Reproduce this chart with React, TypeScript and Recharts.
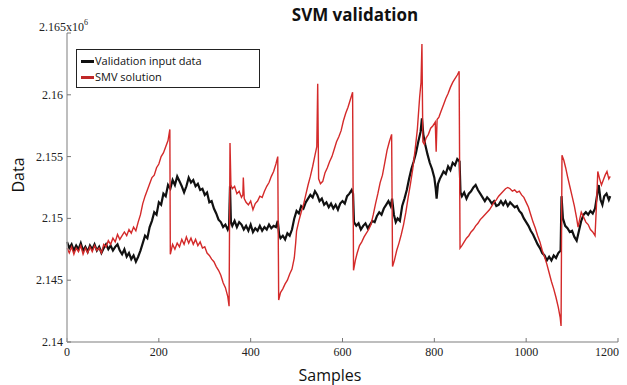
import React from 'react';
import { LineChart, Line, XAxis, YAxis, Legend, Customized } from 'recharts';

const xTicks = [0, 200, 400, 600, 800, 1000, 1200];
const yTicks = [2.14, 2.145, 2.15, 2.155, 2.16, 2.165];
const yTickLabels = ['2.14', '2.145', '2.15', '2.155', '2.16', '2.165x10'];
const seriesNames = ['Validation input data', 'SMV solution'];

const blackSamples = [0,5,10,15,20,25,30,35,40,45,50,55,60,65,70,75,80,85,90,95,100,105,110,115,120,125,130,135,140,145,150,155,160,165,170,175,180,185,190,195,200,205,210,215,220,225,230,235,240,245,250,255,260,265,270,275,280,285,290,295,300,305,310,315,320,325,330,335,340,345,350,353,355,357,360,365,370,375,380,385,390,395,400,405,410,415,420,425,430,435,440,445,450,455,459,462,465,470,475,480,485,490,495,500,505,510,515,520,525,530,535,540,545,550,555,560,565,570,575,580,585,590,595,600,605,610,615,620,623,625,630,635,640,645,650,655,660,665,670,675,680,685,690,695,700,705,708,712,716,720,725,730,735,740,745,750,755,760,765,770,773,776,780,785,790,795,800,803,805,808,812,816,820,825,830,835,840,845,850,855,857,860,865,870,875,880,885,890,895,900,905,910,915,920,925,930,935,940,945,950,955,960,965,970,975,980,985,990,995,1000,1005,1010,1015,1020,1025,1030,1035,1040,1045,1050,1055,1060,1065,1070,1075,1077,1080,1085,1090,1095,1100,1105,1110,1115,1120,1125,1130,1135,1140,1145,1150,1155,1158,1162,1166,1170,1175,1180,1183];
const blackValues = [2.1481,2.1476,2.1479,2.1474,2.1478,2.1475,2.1480,2.1474,2.1477,2.1473,2.1478,2.1475,2.1479,2.1474,2.1477,2.1472,2.1476,2.1479,2.1475,2.1478,2.1474,2.1477,2.1479,2.1474,2.1471,2.1475,2.1469,2.1472,2.1467,2.1470,2.1465,2.1469,2.1474,2.1480,2.1486,2.1484,2.1493,2.1498,2.1505,2.1503,2.1513,2.1511,2.1520,2.1518,2.1527,2.1524,2.1531,2.1527,2.1534,2.1530,2.1526,2.1521,2.1526,2.1533,2.1529,2.1531,2.1526,2.1528,2.1523,2.1524,2.1519,2.1521,2.1513,2.1514,2.1508,2.1504,2.1499,2.1497,2.1493,2.1495,2.1491,2.1494,2.1526,2.1497,2.1494,2.1498,2.1493,2.1497,2.1495,2.1491,2.1494,2.1490,2.1495,2.1489,2.1492,2.1490,2.1494,2.1490,2.1493,2.1491,2.1495,2.1492,2.1494,2.1493,2.1498,2.1487,2.1484,2.1486,2.1483,2.1488,2.1486,2.1491,2.1500,2.1506,2.1504,2.1510,2.1508,2.1513,2.1516,2.1519,2.1517,2.1522,2.1519,2.1514,2.1516,2.1511,2.1513,2.1509,2.1512,2.1508,2.1511,2.1507,2.1512,2.1514,2.1512,2.1518,2.1520,2.1523,2.1520,2.1497,2.1494,2.1496,2.1491,2.1494,2.1496,2.1492,2.1495,2.1498,2.1497,2.1502,2.1505,2.1503,2.1508,2.1511,2.1514,2.1510,2.1516,2.1503,2.1497,2.1500,2.1498,2.1510,2.1516,2.1523,2.1532,2.1540,2.1546,2.1553,2.1562,2.1570,2.1581,2.1568,2.1560,2.1552,2.1545,2.1540,2.1533,2.1524,2.1516,2.1528,2.1532,2.1535,2.1538,2.1536,2.1542,2.1539,2.1545,2.1543,2.1548,2.1546,2.1521,2.1518,2.1521,2.1516,2.1520,2.1522,2.1525,2.1527,2.1523,2.1520,2.1517,2.1514,2.1517,2.1515,2.1512,2.1514,2.1510,2.1511,2.1514,2.1511,2.1514,2.1510,2.1513,2.1511,2.1509,2.1510,2.1506,2.1504,2.1500,2.1497,2.1494,2.1490,2.1487,2.1483,2.1479,2.1476,2.1472,2.1470,2.1466,2.1469,2.1466,2.1470,2.1468,2.1472,2.1474,2.1518,2.1500,2.1494,2.1492,2.1489,2.1490,2.1485,2.1482,2.1490,2.1498,2.1503,2.1505,2.1503,2.1506,2.1504,2.1508,2.1520,2.1527,2.1515,2.1511,2.1518,2.1520,2.1515,2.1518];

const redSamples = [0,5,10,15,20,25,30,35,40,45,50,55,60,65,70,75,80,85,90,95,100,105,110,115,120,125,130,135,140,145,150,155,160,165,170,175,180,185,190,195,200,205,210,215,220,224,225,230,235,240,245,250,255,260,265,270,275,280,285,290,295,300,305,310,315,320,325,330,335,340,345,350,353,355,357,360,365,370,375,380,383,384,386,390,395,400,405,410,415,420,425,430,435,440,445,450,455,459,461,465,470,475,480,485,490,495,498,500,505,510,515,520,525,530,535,540,544,546,548,552,557,562,567,572,577,582,587,592,597,602,607,612,617,622,624,628,632,637,642,647,652,657,662,667,672,677,682,687,692,697,702,707,709,713,718,723,728,733,738,743,748,753,758,763,768,771,773,775,778,782,787,792,797,802,804,806,810,815,820,825,830,835,840,845,850,854,856,860,865,870,875,880,885,890,895,900,905,910,915,920,925,930,935,940,945,950,955,960,965,970,975,980,985,990,995,1000,1005,1010,1015,1020,1025,1030,1035,1040,1045,1050,1055,1060,1065,1070,1074,1076,1078,1082,1086,1090,1095,1100,1105,1110,1113,1117,1120,1125,1130,1135,1140,1145,1150,1153,1156,1160,1164,1168,1172,1176,1180,1183];
const redValues = [2.1476,2.1472,2.1477,2.1471,2.1476,2.1473,2.1478,2.1471,2.1476,2.1472,2.1477,2.1473,2.1478,2.1474,2.1476,2.1472,2.1479,2.1477,2.1482,2.1479,2.1484,2.1481,2.1487,2.1483,2.1486,2.1489,2.1486,2.1491,2.1488,2.1493,2.1490,2.1497,2.1503,2.1512,2.1518,2.1523,2.1528,2.1533,2.1535,2.1541,2.1544,2.1550,2.1553,2.1558,2.1563,2.1572,2.1471,2.1479,2.1475,2.1480,2.1477,2.1483,2.1479,2.1485,2.1480,2.1484,2.1479,2.1483,2.1478,2.1481,2.1476,2.1477,2.1472,2.1470,2.1467,2.1465,2.1461,2.1458,2.1454,2.1448,2.1444,2.1437,2.1429,2.1561,2.1527,2.1524,2.1526,2.1520,2.1522,2.1517,2.1519,2.1533,2.1516,2.1513,2.1511,2.1514,2.1507,2.1512,2.1514,2.1518,2.1517,2.1522,2.1526,2.1529,2.1534,2.1538,2.1544,2.1550,2.1434,2.1440,2.1443,2.1447,2.1450,2.1455,2.1459,2.1468,2.1480,2.1490,2.1498,2.1505,2.1511,2.1519,2.1527,2.1534,2.1542,2.1551,2.1558,2.1609,2.1532,2.1528,2.1530,2.1537,2.1541,2.1546,2.1550,2.1556,2.1562,2.1566,2.1571,2.1579,2.1585,2.1590,2.1596,2.1602,2.1458,2.1466,2.1472,2.1478,2.1481,2.1485,2.1488,2.1491,2.1495,2.1503,2.1512,2.1520,2.1529,2.1535,2.1545,2.1555,2.1562,2.1568,2.1461,2.1466,2.1474,2.1480,2.1487,2.1495,2.1505,2.1517,2.1528,2.1540,2.1555,2.1572,2.1598,2.1610,2.1641,2.1562,2.1560,2.1565,2.1568,2.1573,2.1575,2.1578,2.1554,2.1580,2.1582,2.1587,2.1592,2.1597,2.1601,2.1606,2.1610,2.1613,2.1616,2.1619,2.1476,2.1478,2.1481,2.1484,2.1486,2.1489,2.1491,2.1494,2.1496,2.1499,2.1501,2.1503,2.1505,2.1507,2.1510,2.1513,2.1515,2.1518,2.1520,2.1522,2.1524,2.1525,2.1524,2.1522,2.1523,2.1521,2.1522,2.1519,2.1517,2.1513,2.1509,2.1503,2.1497,2.1492,2.1486,2.1481,2.1474,2.1469,2.1463,2.1456,2.1449,2.1443,2.1436,2.1428,2.1420,2.1413,2.1551,2.1547,2.1541,2.1534,2.1526,2.1518,2.1510,2.1500,2.1493,2.1500,2.1505,2.1501,2.1497,2.1495,2.1491,2.1489,2.1486,2.1510,2.1538,2.1532,2.1527,2.1531,2.1535,2.1538,2.1532,2.1534];

const blackData = blackSamples.map((x, i) => ({ x, y: blackValues[i] }));
const redData = redSamples.map((x, i) => ({ x, y: redValues[i] }));

const BLACK = '#111111';
const RED = '#d42a2a';
const FRAME = '#a8a8a8';
const SERIF = '"Liberation Serif", "Times New Roman", serif';
const SANS = '"Open Sans", "Noto Sans", sans-serif';

const YTick = (props: any) => {
  const { x, y, payload } = props;
  const idx = yTicks.findIndex((t) => Math.abs(t - payload.value) < 1e-9);
  const label = idx >= 0 ? yTickLabels[idx] : String(payload.value);
  if (idx === yTicks.length - 1) {
    return (
      <text x={x - 24} y={y - 6} fontFamily={SERIF} fontSize={12} fill="#222" textAnchor="start" dominantBaseline="central">
        {label}
        <tspan dy={-5} fontSize={8}>6</tspan>
      </text>
    );
  }
  return (
    <text x={x} y={y} fontFamily={SERIF} fontSize={12} fill="#222" textAnchor="end" dominantBaseline="central">
      {label}
    </text>
  );
};

const XTick = (props: any) => {
  const { x, y, payload } = props;
  const isLast = payload.value === xTicks[xTicks.length - 1];
  return (
    <text
      x={isLast ? x + 1 : x}
      y={y}
      fontFamily={SERIF}
      fontSize={12}
      fill="#222"
      textAnchor={isLast ? 'end' : 'middle'}
      dominantBaseline="hanging"
    >
      {payload.value}
    </text>
  );
};

const LegendBox = () => (
  <div
    style={{
      width: 184,
      height: 39,
      border: '1.5px solid #222',
      boxSizing: 'border-box',
      background: '#fff',
      fontFamily: SANS,
      fontSize: 11,
      color: '#111',
      paddingTop: 3,
      paddingLeft: 4,
    }}
  >
    {[BLACK, '#c02828'].map((c, i) => (
      <div key={i} style={{ display: 'flex', alignItems: 'center', height: 16, lineHeight: '16px' }}>
        <span style={{ display: 'inline-block', width: 13, height: 3, background: c, marginRight: 1 }} />
        <span>{seriesNames[i]}</span>
      </div>
    ))}
  </div>
);

const Texts = () => (
  <g>
    <text x={355} y={21} textAnchor="middle" fontFamily={SANS} fontWeight={700} fontSize={17} fill="#111">
      SVM validation
    </text>
    <text x={330} y={381} textAnchor="middle" fontFamily={SANS} fontSize={16} fill="#111">
      Samples
    </text>
    <text
      x={24}
      y={175}
      textAnchor="middle"
      fontFamily={SANS}
      fontSize={16}
      fill="#111"
      transform="rotate(-90 24 175)"
    >
      Data
    </text>
  </g>
);

export default function App() {
  return (
    <div style={{ position: 'absolute', left: 0, top: 0, width: 627, height: 385, background: '#fff' }}>
      <LineChart width={627} height={385} margin={{ top: 33, right: 9, bottom: 13, left: 27 }}>
        <XAxis
          xAxisId="bottom"
          dataKey="x"
          type="number"
          domain={[0, 1200]}
          ticks={xTicks}
          orientation="bottom"
          height={30}
          stroke={FRAME}
          axisLine={{ stroke: FRAME, strokeWidth: 1.5 }}
          tickLine={{ stroke: '#777' }}
          tickSize={-4}
          tickMargin={9}
          tick={<XTick />}
          interval={0}
        />
        <XAxis
          xAxisId="top"
          dataKey="x"
          type="number"
          domain={[0, 1200]}
          ticks={xTicks}
          orientation="top"
          height={0}
          axisLine={{ stroke: FRAME, strokeWidth: 1.5 }}
          tickLine={{ stroke: '#777' }}
          tickSize={-4}
          tick={false}
          interval={0}
        />
        <YAxis
          yAxisId="left"
          dataKey="y"
          type="number"
          domain={[2.14, 2.165]}
          ticks={yTicks}
          orientation="left"
          width={40}
          axisLine={{ stroke: FRAME, strokeWidth: 1.5 }}
          tickLine={{ stroke: '#777' }}
          tickSize={-4}
          tickMargin={8}
          tick={<YTick />}
          interval={0}
        />
        <YAxis
          yAxisId="right"
          dataKey="y"
          type="number"
          domain={[2.14, 2.165]}
          ticks={yTicks}
          orientation="right"
          width={0}
          axisLine={{ stroke: FRAME, strokeWidth: 1.5 }}
          tickLine={{ stroke: '#777' }}
          tickSize={-4}
          tick={false}
          interval={0}
        />
        <Legend
          layout="horizontal"
          verticalAlign="middle"
          align="center"
          wrapperStyle={{ left: 76, top: 49, width: 184, height: 39 }}
          content={<LegendBox />}
        />
        <Line
          xAxisId="bottom"
          yAxisId="left"
          data={blackData}
          dataKey="y"
          name={seriesNames[0]}
          stroke={BLACK}
          strokeWidth={2.2}
          dot={false}
          isAnimationActive={false}
        />
        <Line
          xAxisId="bottom"
          yAxisId="left"
          data={redData}
          dataKey="y"
          name={seriesNames[1]}
          stroke={RED}
          strokeWidth={1.4}
          dot={false}
          isAnimationActive={false}
        />
        <Customized component={<Texts />} />
      </LineChart>
    </div>
  );
}
